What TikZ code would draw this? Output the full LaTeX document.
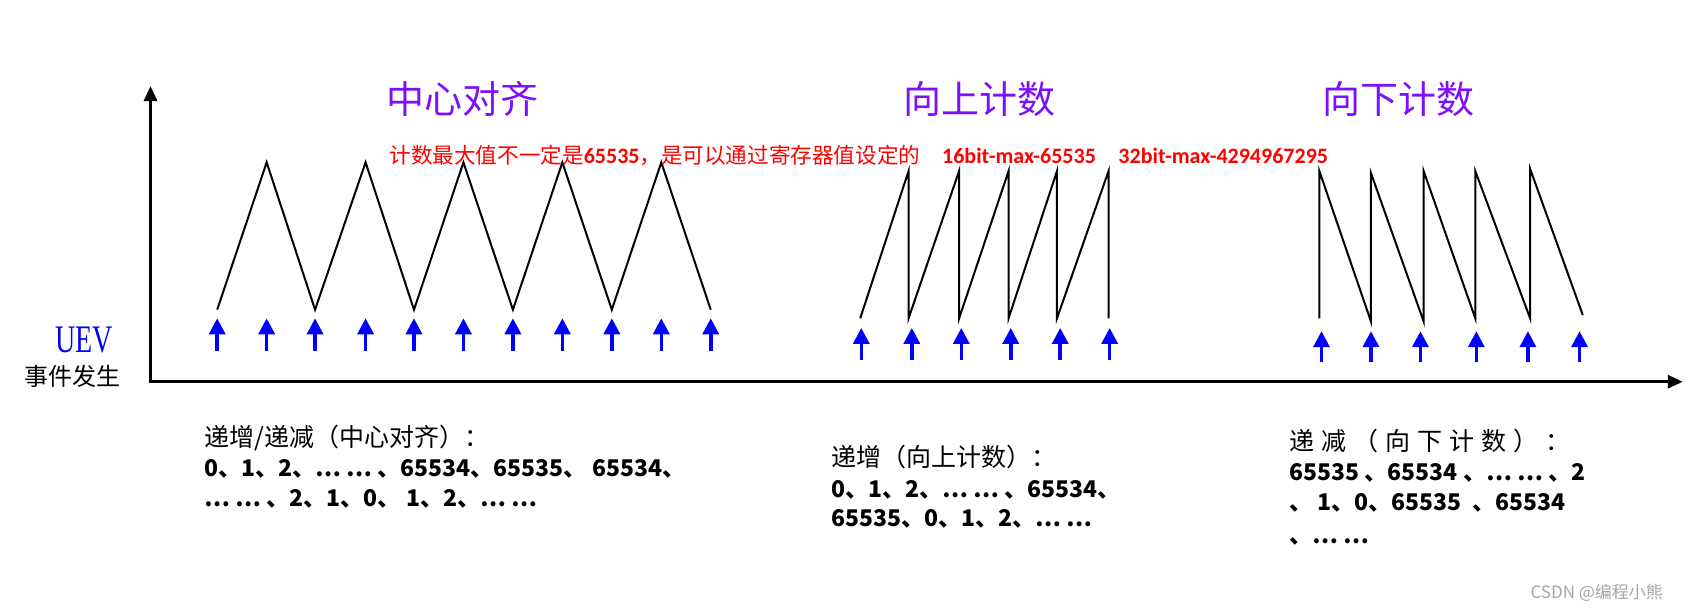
\documentclass[tikz,border=0pt]{standalone}
\usepackage{fontspec}
\setmainfont{Noto Sans CJK SC}
\newfontfamily\uevfont{Liberation Serif}
\newfontfamily\calib{Carlito}
\usetikzlibrary{arrows.meta}
\definecolor{ttlpurple}{RGB}{125,15,255}
\definecolor{evblue}{RGB}{0,0,255}
\definecolor{wmgray}{RGB}{165,165,165}
\tikzset{
 axisline/.style={line width=3pt,{Triangle[length=15pt,width=13pt]}-{Triangle[length=15pt,width=13pt]}},
 wave/.style={line width=2pt},
 evarrow/.style={evblue,line width=3.5pt,-{Triangle[length=16pt,width=16pt]}},
 ttl/.style={ttlpurple,inner sep=0,font=\fontsize{38}{42}\selectfont},
 rednote/.style={red,inner sep=0,anchor=base west,font=\fontsize{21.6}{24}\selectfont},
 rednum/.style={rednote,font=\fontsize{22}{24}\selectfont\calib\bfseries},
 desc/.style={inner sep=0,anchor=base west,font=\fontsize{25}{28}\selectfont},
 descb/.style={inner sep=0,anchor=base west,font=\fontsize{23}{28}\selectfont\bfseries},
}
\begin{document}
\begin{tikzpicture}[x=1.0753pt,y=-1.0753pt]
\useasboundingbox (0,0) rectangle (1568,569);
% axes
\coordinate (O) at (140,355);
\coordinate (ytip) at (140,80);
\coordinate (xtip) at (1565,355);
\draw[axisline] (ytip) -- (O) -- (xtip);
% center-aligned wave
\draw[wave] (202,288) -- (248,151) -- (293,288) -- (340,151) -- (385,288) -- (431,151) -- (477,288) -- (523,151) -- (569,288) -- (615,151) -- (661,288);
\foreach \x in {202,248,293,340,385,431,477,523,569,615,661}
  \draw[evarrow] (\x,326) -- (\x,296);
% up counting
\draw[wave] (800,296) -- (845,159) -- (845,296) -- (892,159) -- (892,296) -- (938,159) -- (938,296) -- (983,159) -- (983,296) -- (1031,159) -- (1031,296);
\foreach \x in {801,848,894,940,986,1032}
  \draw[evarrow] (\x,335) -- (\x,305);
% down counting
\draw[wave] (1227,296) -- (1227,159) -- (1275,299) -- (1275,161) -- (1324,299) -- (1324,159) -- (1372,296) -- (1372,159) -- (1423,296) -- (1423,157) -- (1472,293);
\foreach \x in {1229,1275,1321,1373,1421,1469}
  \draw[evarrow] (\x,337) -- (\x,308);
% titles
\node[ttl] (t1) at (430,92) {中心对齐};
\node[ttl] (t2) at (911,92) {向上计数};
\node[ttl] (t3) at (1301,92) {向下计数};
% red note
\node[rednote] (r1) at (362,152) {计数最大值不一定是{\fontsize{22}{24}\calib\bfseries 65535}，是可以通过寄存器值设定的};
\node[rednum] (r2) at (876,152) {16bit-max-65535};
\node[rednum] (r3) at (1040,152) {32bit-max-4294967295};
% UEV label
\node[evblue,inner sep=0] (uev) at (78,316) {\fontsize{39}{40}\uevfont\scalebox{0.72}[1]{UEV}};
\node[inner sep=0] (evt) at (67,350) {\fontsize{24}{26}\selectfont 事件发生};
% left description
\node[desc] (l1) at (190,415) {递增/递减（中心对齐）：};
\node[descb] (l2) at (190,443) {0、1、2、… … 、65534、65535、 65534、};
\node[descb] (l3) at (190,471) {… … 、2、1、0、 1、2、… …};
% middle description
\node[desc] (m1) at (773,434) {递增（向上计数）：};
\node[descb] (m2) at (773,463) {0、1、2、… … 、65534、};
\node[descb] (m3) at (773,490) {65535、0、1、2、… …};
% right description
\node[desc] (d1) at (1199,419) {\spaceskip=7pt 递 减 （ 向 下 计 数 ） ：};
\node[descb] (d2) at (1199,447) {65535 、65534 、… … 、2};
\node[descb] (d3) at (1199,475) {、 1、0、65535 \ 、65534};
\node[descb] (d4) at (1199,505) {、… …};
% watermark
\node[wmgray,inner sep=0] (wm) at (1485,551) {\fontsize{17}{20}\selectfont CSDN @编程小熊};
\end{tikzpicture}
\end{document}
